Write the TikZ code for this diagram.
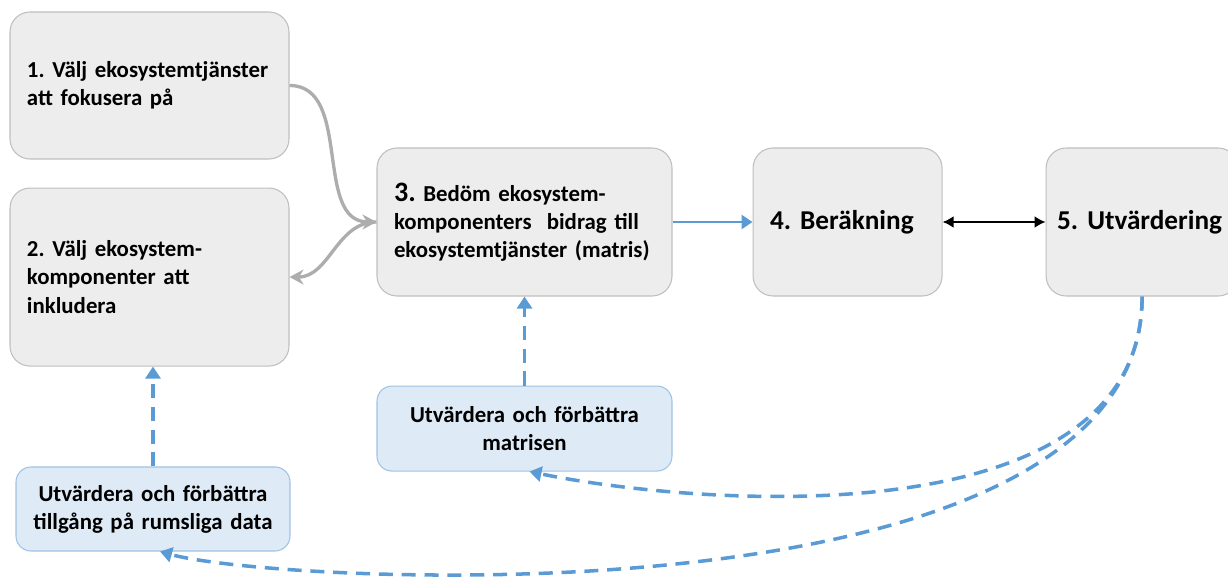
\documentclass[tikz,border=0pt]{standalone}
\usepackage{fontspec}
\setmainfont{Carlito}
\usepackage{tikz}
\usetikzlibrary{positioning}
\usetikzlibrary{arrows.meta}

\definecolor{boxfill}{HTML}{EDEDED}
\definecolor{boxline}{HTML}{BFBFBF}
\definecolor{notefill}{HTML}{DEEBF7}
\definecolor{noteline}{HTML}{9DC3E6}
\definecolor{flowblue}{HTML}{5B9BD5}
\definecolor{flowgray}{HTML}{ADADAD}
\newcommand{\boxfont}{\fontsize{13}{16}\selectfont\bfseries}
\frenchspacing
\hyphenpenalty=10000
\exhyphenpenalty=10000

\begin{document}
\begin{tikzpicture}[stepbox/.style={draw=boxline, fill=boxfill, line width=0.6pt,
                      rounded corners=0.4cm, inner xsep=0.34cm, align=left, font=\boxfont},
                    notebox/.style={draw=noteline, fill=notefill, line width=0.6pt,
                      rounded corners=0.3cm, inner xsep=0.15cm, align=center, font=\boxfont},
                    grayflow/.style={flowgray, line width=1.9pt, -{Stealth[length=2.8mm,width=3mm]}},
                    blueloop/.style={flowblue, line width=2pt, dash pattern=on 8pt off 5pt,
                      -{Triangle[length=2.4mm,width=3mm]}}]
\useasboundingbox (0,0) rectangle (24.56,-11.58);

\node[stepbox,
      text width=4.9cm,
      minimum height=2.94cm
     ]
     (choose) at (2.99,-1.71) {1. Välj ekosystemtjänster\\att fokusera på};
\node[stepbox,
      text width=4.9cm,
      minimum height=3.56cm,
      below=0.56cm of choose
     ]
     (select) {2. Välj ekosystem-\\komponenter att\\inkludera};
\node[stepbox,
      text width=5.22cm,
      minimum height=2.96cm
     ]
     (assess) at (10.49,-4.44) {{\fontsize{16}{16}\selectfont 3.} Bedöm ekosystem-\\komponenters~ bidrag till\\ekosystemtjänster (matris)};
\node[stepbox,
      text width=3.1cm,
      minimum height=2.96cm,
      font=\fontsize{15.5}{18}\selectfont\bfseries,
      right=1.6cm of assess
     ]
     (compute) {4. Beräkning};
\node[stepbox,
      text width=3.4cm,
      inner xsep=0.22cm,
      minimum height=2.96cm,
      font=\fontsize{15.5}{18}\selectfont\bfseries,
      right=2.06cm of compute
     ]
     (evaluate) {5. Utvärdering};

\node[notebox,
      text width=5.6cm,
      minimum height=1.7cm,
      below=1.78cm of assess
     ]
     (matrix) {Utvärdera och förbättra\\matrisen};
\node[notebox,
      text width=5.18cm,
      minimum height=1.68cm
     ]
     (spatial) at (3.06,-10.18) {Utvärdera och förbättra\\tillgång på rumsliga data};

% Arrows between the steps
\draw[grayflow] (choose.east) to[out=0,in=180] (assess.west);
\draw[grayflow] (assess.west) to[out=180,in=0] (select.east);
\draw[flowblue, line width=1.7pt, -{Triangle[length=2.2mm,width=2.8mm]}] (assess.east) -- (compute.west);
\draw[line width=1.2pt, {Latex[length=2.2mm,width=2.4mm]}-{Latex[length=2.2mm,width=2.4mm]}] (compute.east) -- (evaluate.west);

% Feedback loops
\draw[blueloop] (matrix.north) -- (assess.south);
\draw[blueloop] (spatial.north) -- (spatial.north |- select.south);
\draw[blueloop] (evaluate.south) .. controls +(0,-4.86) and +(3.42,-0.7) .. ([xshift=0.1cm]matrix.south);
\draw[blueloop] (evaluate.south) .. controls +(0,-6.66) and +(2.4,-0.66) .. ([xshift=0.14cm]spatial.south);

\end{tikzpicture}
\end{document}
